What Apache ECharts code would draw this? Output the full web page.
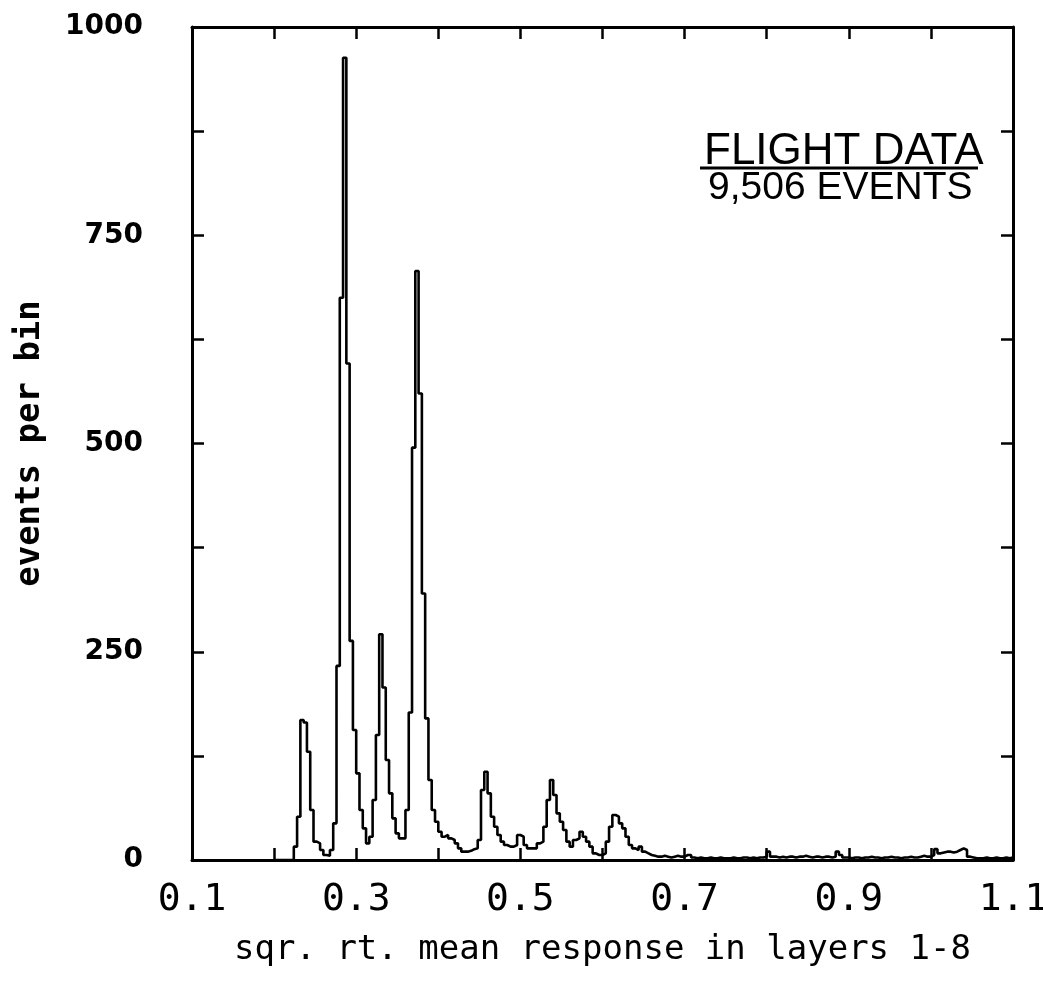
<!DOCTYPE html>
<html>
<head>
<meta charset="utf-8">
<script src="https://cdn.jsdelivr.net/npm/echarts@6/dist/echarts.min.js"></script>
<style>
  html, body { margin: 0; padding: 0; background: #fff; }
  #chart { width: 1043px; height: 981px; }
</style>
</head>
<body>
<div id="chart"></div>
<script>
// ---- data ----
const binStart = 0.2;      // left edge of first bin
const binWidth = 0.004;    // bin width
const counts = [
  0, 0, 0, 0, 0, 0, 16, 52, 168, 165,
  130, 60, 22, 20, 12, 6, 5, 12, 44, 233,
  675, 963, 596, 263, 156, 104, 60, 38, 20, 28,
  72, 150, 271, 207, 120, 80, 50, 32, 26, 26,
  60, 177, 495, 707, 560, 320, 170, 96, 60, 46,
  34, 28, 30, 26, 24, 20, 14, 10, 10, 11,
  13, 14, 24, 84, 106, 80, 52, 40, 30, 22,
  18, 16, 16, 18, 30, 28, 18, 14, 14, 14,
  20, 22, 40, 72, 96, 78, 56, 46, 36, 22,
  16, 24, 26, 34, 28, 22, 16, 8, 6, 6,
  8, 22, 40, 54, 52, 44, 38, 28, 18, 14,
  12, 16, 10, 8, 6, 5, 4, 4, 5, 4,
  3, 4, 5, 4, 4, 6, 6, 3, 2, 3,
  2, 2, 3, 2, 2, 3, 2, 2, 2, 3,
  2, 2, 3, 3, 2, 3, 2, 3, 3, 4,
  10, 4, 4, 3, 4, 3, 4, 4, 3, 4,
  4, 5, 4, 3, 4, 4, 3, 4, 4, 3,
  4, 10, 6, 3, 3, 2, 3, 3, 2, 3,
  3, 4, 3, 3, 2, 3, 3, 4, 3, 3,
  2, 3, 3, 4, 3, 3, 4, 5, 4, 4,
  6, 13, 8, 9, 10, 10, 9, 10, 12, 14,
  12, 4, 3, 2, 2, 2, 3, 2, 2, 3,
  2, 2, 3, 2, 3
];
const xTickLabels = ['0.1', '0.3', '0.5', '0.7', '0.9', '1.1'];
const yTickLabels = ['0', '250', '500', '750', '1000'];
const xTitle = 'sqr. rt. mean response in layers 1-8';
const yTitle = 'events per bin';
const noteTitle = 'FLIGHT DATA';
const noteSub = '9,506 EVENTS';

// ---- build step points from bins ----
const points = [];
for (let i = 0; i < counts.length; i++) {
  points.push([+(binStart + i * binWidth).toFixed(4), counts[i]]);
}
points.push([+(binStart + counts.length * binWidth).toFixed(4), counts[counts.length - 1]]);

const chart = echarts.init(document.getElementById('chart'), null, { renderer: 'canvas' });

const axisLine = { show: true, onZero: false, lineStyle: { color: '#000', width: 3 } };
const tickStyle = { show: true, inside: true, length: 12, lineStyle: { color: '#000', width: 2.5 } };

function xLabelFmt(v) {
  const s = (Math.round(v * 10) / 10).toFixed(1);
  return xTickLabels.indexOf(s) >= 0 ? s : '';
}
function yLabelFmt(v) {
  const s = String(Math.round(v));
  return yTickLabels.indexOf(s) >= 0 ? s : '';
}

chart.setOption({
  animation: false,
  backgroundColor: '#fff',
  grid: { left: 192, right: 30, top: 27, bottom: 121, containLabel: false, outerBoundsMode: 'none' },
  xAxis: [
    {
      type: 'value', min: 0.1, max: 1.1, interval: 0.1, position: 'bottom',
      axisLine, axisTick: tickStyle, splitLine: { show: false },
      axisLabel: {
        show: true, margin: 21, formatter: xLabelFmt, color: '#000',
        fontFamily: 'DejaVu Sans Mono', fontSize: 38
      },
      name: xTitle, nameLocation: 'middle', nameGap: 73,
      nameTextStyle: { fontFamily: 'DejaVu Sans Mono', fontSize: 34, color: '#000' }
    },
    {
      type: 'value', min: 0.1, max: 1.1, interval: 0.1, position: 'top',
      axisLine, axisTick: tickStyle, splitLine: { show: false },
      axisLabel: { show: false }
    }
  ],
  yAxis: [
    {
      type: 'value', min: 0, max: 1000, interval: 125, position: 'left',
      axisLine, axisTick: tickStyle, splitLine: { show: false },
      axisLabel: {
        show: true, margin: 49, formatter: yLabelFmt, color: '#000',
        fontFamily: 'DejaVu Sans', fontWeight: 'bold', fontSize: 28
      },
      name: yTitle, nameLocation: 'middle', nameGap: 145,
      nameTextStyle: { fontFamily: 'DejaVu Sans Mono', fontWeight: 'bold', fontSize: 34, color: '#000' }
    },
    {
      type: 'value', min: 0, max: 1000, interval: 125, position: 'right',
      axisLine, axisTick: tickStyle, splitLine: { show: false },
      axisLabel: { show: false }
    }
  ],
  series: [
    {
      type: 'line', xAxisIndex: 0, yAxisIndex: 0, step: 'end',
      data: points, showSymbol: false, symbol: 'none',
      lineStyle: { color: '#000', width: 2.6 }, z: 3
    }
  ],
  graphic: [
    {
      type: 'text', left: 704, top: 130,
      style: { text: noteTitle, fontFamily: 'Liberation Sans', fontSize: 44, fill: '#000' }
    },
    {
      type: 'line', shape: { x1: 700, y1: 168, x2: 978, y2: 168 },
      style: { stroke: '#000', lineWidth: 3 }
    },
    {
      type: 'text', left: 708, top: 169,
      style: { text: noteSub, fontFamily: 'Liberation Sans', fontSize: 39, fill: '#000' }
    }
  ]
});
</script>
</body>
</html>
